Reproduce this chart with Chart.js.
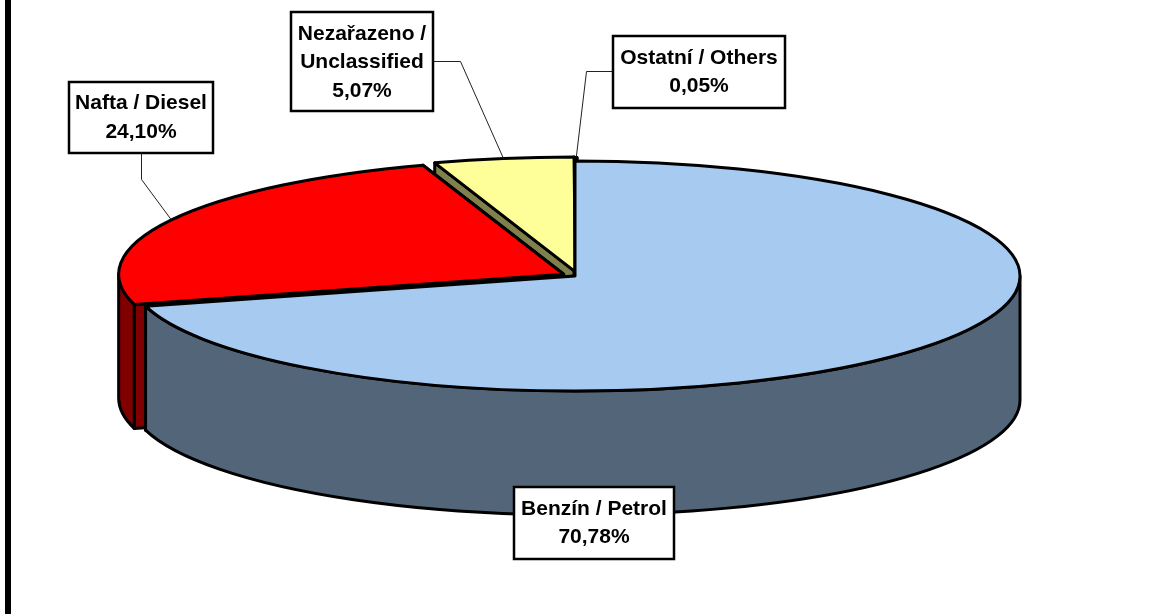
<!DOCTYPE html>
<html>
<head>
<meta charset="utf-8">
<style>html,body{margin:0;padding:0;background:#fff}canvas{display:block}</style>
<script src="https://cdn.jsdelivr.net/npm/chart.js@4"></script>
</head>
<body>
<canvas id="c" width="1153" height="614"></canvas>
<script>
// Data
const categories = ['Benzín / Petrol', 'Nafta / Diesel', 'Nezařazeno / Unclassified', 'Ostatní / Others'];
const shares = [70.78, 24.10, 5.07, 0.05];
// Styles
const topColors = ['#A6CAF0', '#FF0000', '#FFFF99', '#000000'];
const sideColors = ['#536578', '#800000', '#80804D', '#000000'];
const explodeBy = [0, 14, 16, 14];
const explodeNudgeX = [0, 1, 3, 2];
const categoryLines = [['Benzín / Petrol'], ['Nafta / Diesel'], ['Nezařazeno /', 'Unclassified'], ['Ostatní / Others']];
const paintOrder = [3, 2, 1, 0];
// Layout
const RADIUS = 445, TILT = 115 / 445, DEPTH = 124, EDGE = 3;
const labelBoxes = [
  {x: 514, y: 487, w: 160, h: 72, text: 508},
  {x: 69, y: 82, w: 144, h: 71, text: 102.5},
  {x: 291, y: 12, w: 142, h: 99, text: 33},
  {x: 613, y: 36, w: 172, h: 72, text: 57}
];
const leaderKnees = [null, [[141, 153], [141, 179]], [[433, 61], [460, 61]], [[613, 71], [586, 71]]];
const LINE_H = 28.5;

const pct = v => v.toFixed(2).replace('.', ',') + '%';
function geom(el, i) {
  const mid = (el.startAngle + el.endAngle) / 2;
  const d = explodeBy[i];
  const dx = Math.cos(mid) * d + explodeNudgeX[i], dy = Math.sin(mid) * d * TILT;
  return {mid, dx, dy, cx: el.x + dx, cy: el.y + dy};
}
function outline(ctx, fill) {
  ctx.lineJoin = 'round';
  ctx.lineWidth = EDGE;
  ctx.strokeStyle = '#000';
  if (fill) { ctx.fillStyle = fill; ctx.fill(); }
  ctx.stroke();
}

const pie3d = {
  id: 'pie3d',
  beforeDraw(chart) {
    const ctx = chart.ctx;
    ctx.save();
    ctx.fillStyle = '#fff';
    ctx.fillRect(0, 0, chart.width, chart.height);
    ctx.fillStyle = '#000';
    ctx.fillRect(5, 0, 6, chart.height);
    ctx.restore();
  },
  beforeDatasetsDraw(chart) {
    const ctx = chart.ctx, arcs = chart.getDatasetMeta(0).data;
    paintOrder.forEach(i => {
      const el = arcs[i], g = geom(el, i), R = el.outerRadius, rY = R * TILT;
      const a0 = el.startAngle, a1 = el.endAngle;
      // cut faces
      [a0, a1].forEach(a => {
        const rx = g.cx + Math.cos(a) * R, ry = g.cy + Math.sin(a) * rY;
        ctx.beginPath();
        ctx.moveTo(g.cx, g.cy);
        ctx.lineTo(rx, ry);
        ctx.lineTo(rx, ry + DEPTH);
        ctx.lineTo(g.cx, g.cy + DEPTH);
        ctx.closePath();
        outline(ctx, sideColors[i]);
      });
      // outer wall
      const s = Math.max(a0, 0), e = Math.min(a1, Math.PI);
      if (e > s) {
        ctx.beginPath();
        ctx.ellipse(g.cx, g.cy, R, rY, 0, s, e);
        ctx.ellipse(g.cx, g.cy + DEPTH, R, rY, 0, e, s, true);
        ctx.closePath();
        outline(ctx, sideColors[i]);
      }
      // top face drawn by the library's own arc element, squashed into an ellipse
      ctx.save();
      ctx.translate(g.dx, el.y + g.dy);
      ctx.scale(1, TILT);
      ctx.translate(0, -el.y);
      el.draw(ctx, chart.chartArea);
      ctx.restore();
      ctx.beginPath();
      ctx.moveTo(g.cx, g.cy);
      ctx.ellipse(g.cx, g.cy, R, rY, 0, a0, a1);
      ctx.closePath();
      outline(ctx);
    });
    return false;
  },
  afterDraw(chart) {
    const ctx = chart.ctx, arcs = chart.getDatasetMeta(0).data;
    ctx.save();
    // leaders
    categories.forEach((c, i) => {
      if (!leaderKnees[i]) return;
      const el = arcs[i], g = geom(el, i), R = el.outerRadius;
      ctx.beginPath();
      leaderKnees[i].forEach((p, k) => k ? ctx.lineTo(p[0] + .5, p[1] + .5) : ctx.moveTo(p[0] + .5, p[1] + .5));
      ctx.lineTo(g.cx + Math.cos(g.mid) * R, g.cy + Math.sin(g.mid) * R * TILT);
      ctx.lineWidth = 1;
      ctx.strokeStyle = '#222';
      ctx.stroke();
    });
    // label boxes
    ctx.font = 'bold 21px "Liberation Sans", Arial, sans-serif';
    ctx.textAlign = 'center';
    ctx.textBaseline = 'middle';
    categories.forEach((c, i) => {
      const b = labelBoxes[i];
      ctx.fillStyle = '#fff';
      ctx.fillRect(b.x, b.y, b.w, b.h);
      ctx.strokeStyle = '#000';
      ctx.lineWidth = 2.5;
      ctx.lineJoin = 'miter';
      ctx.strokeRect(b.x, b.y, b.w, b.h);
      ctx.fillStyle = '#000';
      const lines = categoryLines[i].concat(pct(shares[i]));
      lines.forEach((t, k) => ctx.fillText(t, b.x + b.w / 2, b.text + k * LINE_H + 1));
    });
    ctx.restore();
  }
};

new Chart(document.getElementById('c'), {
  type: 'pie',
  data: {
    labels: categories,
    datasets: [{
      data: shares,
      backgroundColor: topColors,
      borderWidth: 0,
      radius: RADIUS
    }]
  },
  options: {
    responsive: false,
    animation: false,
    events: [],
    layout: {padding: {left: 0, top: 0, right: 3, bottom: 62}},
    plugins: {legend: {display: false}, tooltip: {enabled: false}}
  },
  plugins: [pie3d]
});
</script>
</body>
</html>
